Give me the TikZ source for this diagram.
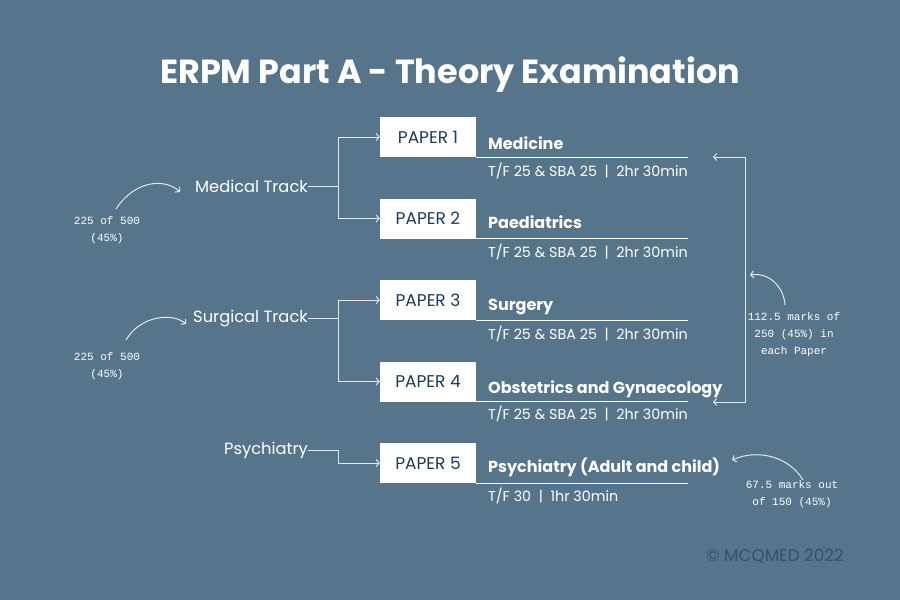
\documentclass[tikz,border=0pt]{standalone}
\usepackage{fontspec}
\setmainfont{Poppins}
\newfontfamily\notefont{Liberation Mono}
\usetikzlibrary{arrows.meta}

\definecolor{slate}{HTML}{57758A}
\definecolor{navy}{HTML}{1E3B57}
\definecolor{linegrey}{HTML}{E3E8EC}
\definecolor{marktext}{HTML}{34516B}

\begin{document}
\begin{tikzpicture}[x=1pt,y=-1pt]

\tikzset{paper/.style = {shape=rectangle,fill=white,text=navy,minimum width=96pt,minimum height=40pt,inner sep=0pt,font=\fontsize{17}{20}\selectfont}}
\tikzset{track/.style = {anchor=east,text=white,inner sep=0pt,font=\fontsize{16.3}{19}\selectfont}}
\tikzset{subject/.style = {anchor=base west,text=white,inner sep=0pt,font=\bfseries\fontsize{16}{19}\selectfont}}
\tikzset{detail/.style = {anchor=base west,text=white,inner sep=0pt,font=\fontsize{14.3}{17}\selectfont}}
\tikzset{note/.style = {align=center,text=white,inner sep=0pt,font=\notefont\fontsize{11}{17}\selectfont}}
\tikzset{link/.style = {draw=linegrey,line width=1pt,> = {Straight Barb[length=3pt,width=7pt]}}}
\tikzset{rule/.style = {draw=white,line width=1pt}}

\fill[slate] (0,0) rectangle (900,600);
\useasboundingbox (0,0) rectangle (900,600);

\node[text=white,font=\bfseries\fontsize{33.4}{38}\selectfont] (title) at (450,75) {ERPM Part A - Theory Examination};

% papers
\node[paper] (p1) at (428,137) {PAPER 1};
\node[paper] (p2) at (428,218.5) {PAPER 2};
\node[paper] (p3) at (428,300) {PAPER 3};
\node[paper] (p4) at (428,381.5) {PAPER 4};
\node[paper] (p5) at (428,463) {PAPER 5};

\draw[rule] (p1.south east) -- ++(212,0);
\draw[rule] (p2.south east) -- ++(212,0);
\draw[rule] (p3.south east) -- ++(212,0);
\draw[rule] (p4.south east) -- ++(212,0);
\draw[rule] (p5.south east) -- ++(212,0);

\node[subject] (s1) at (488,149) {Medicine};
\node[subject] (s2) at (488,228) {Paediatrics};
\node[subject] (s3) at (488,310) {Surgery};
\node[subject] (s4) at (488,393) {Obstetrics and Gynaecology};
\node[subject] (s5) at (488,472) {Psychiatry (Adult and child)};

\node[detail] (d1) at (488,176) {T/F 25 \& SBA 25 \ | \ 2hr 30min};
\node[detail] (d2) at (488,257) {T/F 25 \& SBA 25 \ | \ 2hr 30min};
\node[detail] (d3) at (488,339) {T/F 25 \& SBA 25 \ | \ 2hr 30min};
\node[detail] (d4) at (488,419) {T/F 25 \& SBA 25 \ | \ 2hr 30min};
\node[detail] (d5) at (488,501) {T/F 30 \ | \ 1hr 30min};

% tracks
\node[track] (med) at (308,186) {Medical Track};
\node[track] (surg) at (308,318) {Surgical Track};
\node[track] (psy) at (308,450) {Psychiatry};

\coordinate (mj) at (338,186);
\coordinate (sj) at (338,318);
\coordinate (yj) at (338,450);

\draw[link,->] (med.east) -- (mj) |- (p1.west);
\draw[link,->] (mj) |- (p2.west);
\draw[link,->] (surg.east) -- (sj) |- (p3.west);
\draw[link,->] (sj) |- (p4.west);
\draw[link,->] (psy.east) -- (yj) |- (p5.west);

% pass marks
\node[note] (n1) at (107,230) {225 of 500\\(45\%)};
\node[note] (n2) at (107,366) {225 of 500\\(45\%)};
\node[note] (n3) at (794,335) {112.5 marks of\\250 (45\%) in\\each Paper};
\node[note] (n4) at (792,494) {67.5 marks out\\of 150 (45\%)};

\coordinate (k1) at (116,209);
\coordinate (k2) at (180,192);
\coordinate (k3) at (126,340);
\coordinate (k4) at (186,324);
\coordinate (k5) at (785,305);
\coordinate (k6) at (750,275);
\coordinate (k7) at (803,480);
\coordinate (k8) at (732,460);

\draw[link,->] (k1) .. controls (135,180) and (165,178) .. (k2);
\draw[link,->] (k3) .. controls (140,316) and (172,312) .. (k4);
\draw[link,->] (k5) .. controls (784,288) and (770,272) .. (k6);
\draw[link,->] (k7) .. controls (790,458) and (760,448) .. (k8);

\coordinate (r1) at (713,157);
\coordinate (r2) at (745,157);
\coordinate (r3) at (745,402);
\coordinate (r4) at (713,402);
\draw[link,<->] (r1) -- (r2) -- (r3) -- (r4);

\node[text=marktext,font=\fontsize{16.8}{20}\selectfont] (mark) at (775,556) {© MCQMED 2022};

\end{tikzpicture}
\end{document}
